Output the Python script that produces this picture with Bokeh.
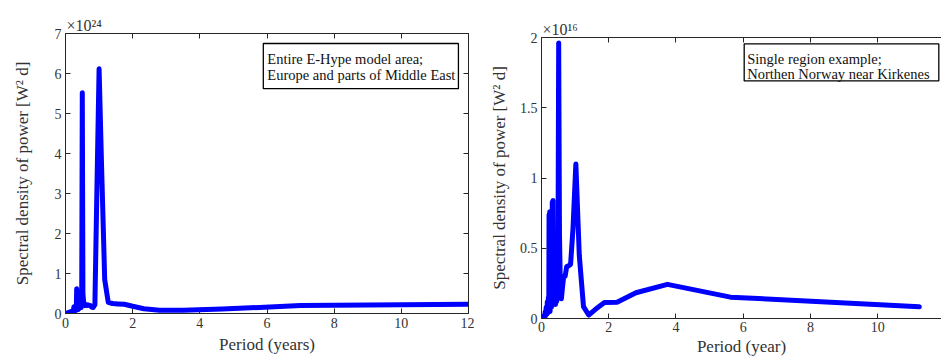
from bokeh.plotting import figure
from bokeh.layouts import row, column
from bokeh.models import Range1d, FixedTicker, CustomJSTickFormatter, LinearAxis, Label, BoxAnnotation, Title
from bokeh.embed import file_html
from bokeh.resources import INLINE

# ---------------- data ----------------
europe_period_years = [14.0, 7.0, 4.667, 3.5, 2.8, 2.333, 2.0, 1.75, 1.556, 1.4, 1.273, 1.167, 1.077, 1.0,
                       0.933, 0.875, 0.824, 0.778, 0.737, 0.7, 0.667, 0.636, 0.609, 0.583, 0.56, 0.538,
                       0.519, 0.5, 0.483, 0.467, 0.452, 0.438, 0.424, 0.412, 0.4, 0.389, 0.378, 0.368,
                       0.359, 0.35, 0.341, 0.333, 0.326, 0.318, 0.311, 0.304, 0.298, 0.292, 0.28, 0.269,
                       0.259, 0.25, 0.241, 0.233, 0.2, 0.175, 0.156, 0.14, 0.117, 0.1, 0.0875, 0.07,
                       0.056, 0.047, 0.03, 0.02]
europe_density_e24 = [0.24, 0.20, 0.11, 0.08, 0.08, 0.12, 0.18, 0.23, 0.24, 0.25, 0.28, 0.85, 3.6, 6.12,
                      3.0, 0.22, 0.15, 0.16, 0.20, 0.20, 0.22, 0.20, 0.22, 0.20, 0.25, 0.30,
                      0.50, 5.52, 0.40, 0.15, 0.20, 0.25, 0.15, 0.20, 0.12, 0.15, 0.10, 0.12,
                      0.10, 0.15, 0.30, 0.62, 0.30, 0.10, 0.08, 0.10, 0.07, 0.09, 0.08, 0.07,
                      0.09, 0.17, 0.08, 0.07, 0.06, 0.05, 0.05, 0.04, 0.03, 0.03, 0.02, 0.02,
                      0.01, 0.01, 0.01, 0.0]

kirkenes_period_year = [11.24, 5.62, 3.747, 2.81, 2.248, 1.873, 1.606, 1.405, 1.249, 1.124, 1.022, 0.937,
                        0.865, 0.803, 0.749, 0.703, 0.661, 0.624, 0.592, 0.562, 0.535, 0.511, 0.489,
                        0.468, 0.45, 0.432, 0.416, 0.401, 0.388, 0.375, 0.363, 0.351, 0.341, 0.331,
                        0.321, 0.312, 0.304, 0.296, 0.288, 0.281, 0.268, 0.255, 0.244, 0.234, 0.225,
                        0.216, 0.204, 0.187, 0.173, 0.161, 0.14, 0.125, 0.112, 0.094, 0.075, 0.056,
                        0.037, 0.02]
kirkenes_density_e16 = [0.083, 0.152, 0.243, 0.183, 0.115, 0.113, 0.065, 0.025, 0.085, 0.45, 1.10, 0.64,
                        0.385, 0.375, 0.37, 0.30, 0.30, 0.22, 0.14, 0.20, 0.60, 1.96, 0.30,
                        0.15, 0.12, 0.25, 0.10, 0.12, 0.35, 0.12, 0.30, 0.12, 0.84, 0.10,
                        0.83, 0.10, 0.35, 0.08, 0.20, 0.08, 0.30, 0.05, 0.76, 0.07, 0.74,
                        0.05, 0.15, 0.04, 0.12, 0.03, 0.08, 0.02, 0.05, 0.015, 0.02, 0.008,
                        0.005, 0.0]

left_x_ticks = [0, 2, 4, 6, 8, 10, 12]
left_y_ticks = [0, 1, 2, 3, 4, 5, 6, 7]
right_x_ticks = [0, 2, 4, 6, 8, 10, 12]
right_y_ticks = [0, 0.5, 1, 1.5, 2]

left_note = ["Entire E-Hype model area;", "Europe and parts of Middle East"]
right_note = ["Single region example;", "Northen Norway near Kirkenes"]
left_exponent = "\u00d710\u00b2\u2074"
right_exponent = "\u00d710\u00b9\u2076"
left_xlabel = "Period (years)"
right_xlabel = "Period (year)"
ylabel = "Spectral density of power [W\u00b2 d]"

FONT = "Liberation Serif"
TXT = "#333333"
AX = "#262626"
BLUE = "#0000ff"


def style_axis(ax, ticks, labels=True, standoff=4):
    ax.ticker = FixedTicker(ticks=ticks)
    ax.major_tick_in = 5
    ax.major_tick_out = 0
    ax.minor_tick_line_color = None
    ax.axis_line_color = AX
    ax.major_tick_line_color = AX
    ax.major_label_text_font = FONT
    ax.major_label_text_color = TXT
    ax.axis_label_text_font = FONT
    ax.axis_label_text_font_size = "17px"
    ax.axis_label_text_font_style = "normal"
    ax.axis_label_text_color = TXT
    if labels:
        ax.formatter = CustomJSTickFormatter(code="return tick.toString();")
        ax.major_label_text_font_size = "14px"
        ax.major_label_standoff = standoff
    else:
        ax.formatter = CustomJSTickFormatter(code="return '';")
        ax.major_label_text_font_size = "1px"
        ax.major_label_standoff = 0


def title(text, size, align, offset, standoff, line_height=1.0):
    return Title(text=text, align=align, offset=offset, standoff=standoff,
                 text_font=FONT, text_font_size=size, text_font_style="normal",
                 text_line_height=line_height, text_color=TXT)


def make_panel(width, xr, yr, borders, xticks, yticks, xs, ys, ylab_standoff, xtick_standoff,
               xlabel, xlabel_offset, xlabel_standoff, exponent, outline=True):
    p = figure(width=width, height=356, x_range=xr, y_range=yr,
               output_backend="svg", toolbar_location=None,
               min_border_left=borders[0], min_border_right=borders[1],
               min_border_top=borders[2], min_border_bottom=borders[3])
    p.grid.visible = False
    p.background_fill_color = "white"
    p.border_fill_color = "white"
    p.outline_line_color = AX if outline else None
    style_axis(p.xaxis[0], xticks, standoff=xtick_standoff)
    style_axis(p.yaxis[0], yticks, standoff=4)
    p.yaxis[0].axis_label = ylabel
    p.yaxis[0].axis_label_standoff = ylab_standoff
    top = LinearAxis()
    style_axis(top, xticks, labels=False)
    p.add_layout(top, "above")
    if outline:
        right = LinearAxis()
        style_axis(right, yticks, labels=False)
        p.add_layout(right, "right")
    p.add_layout(title(exponent, "16px", "left", 1, 0), "above")
    p.add_layout(title(xlabel, "17px", "center", xlabel_offset, xlabel_standoff, 0.8), "below")
    p.line(xs, ys, line_width=5, color=BLUE, line_join="round", line_cap="round")
    return p


def note(p, lines, x, baselines):
    for txt, yb in zip(lines, baselines):
        p.add_layout(Label(x=x, y=yb, text=txt, text_font=FONT, text_font_size="14.5px",
                           text_color="#111111", text_align="left",
                           text_baseline="alphabetic"))


# ---------------- left panel ----------------
p1 = make_panel(474, Range1d(0, 12), Range1d(0, 7), (65, 6, 33, 43),
                left_x_ticks, left_y_ticks, europe_period_years, europe_density_e24, 20, 4,
                left_xlabel, 14, 5, left_exponent)
p1.add_layout(BoxAnnotation(left=5.89, right=11.70, bottom=5.62, top=6.75,
                            fill_color="white", fill_alpha=1, line_color="black", line_width=1.3,
                            line_alpha=1))
note(p1, left_note, 6.01, [6.357, 5.975])

# ---------------- right panel ----------------
p2 = make_panel(467, Range1d(0, 11.9), Range1d(0, 2), (67, 0, 37, 37),
                right_x_ticks, right_y_ticks, kirkenes_period_year, kirkenes_density_e16, 8, 3,
                right_xlabel, 0, 1, right_exponent, outline=False)
p2.add_layout(BoxAnnotation(left=6.03, right=11.82, bottom=1.691, top=1.954,
                            fill_color="white", fill_alpha=1, line_color="black", line_width=1.3,
                            line_alpha=1))
note(p2, right_note, 6.12, [1.846, 1.738])

layout = row(column(p1), column(p2))
open("out.html", "w").write(file_html(layout, INLINE))
